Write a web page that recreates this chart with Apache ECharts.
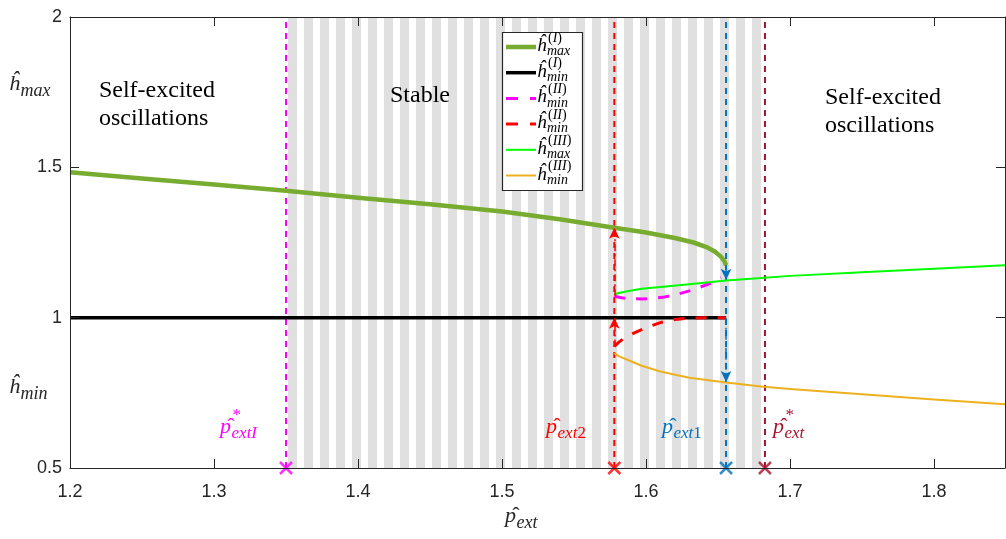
<!DOCTYPE html>
<html>
<head>
<meta charset="utf-8">
<script src="https://cdn.jsdelivr.net/npm/echarts@6/dist/echarts.min.js"></script>
<style>
  html, body { margin: 0; padding: 0; background: #fff; }
  #chart { width: 1006px; height: 539px; }
</style>
</head>
<body>
<div id="chart"></div>
<script>
// ---- axes ----
const xMin = 1.2, xMax = 1.8493, xStep = 0.1;
const yMin = 0.5, yMax = 2, yStep = 0.5;

// ---- branch I ----
const hMaxI_x = [1.2, 1.25, 1.3, 1.35, 1.4, 1.45, 1.5, 1.54, 1.578, 1.6, 1.62, 1.633, 1.642, 1.648, 1.652, 1.6545, 1.6556];
const hMaxI_y = [1.484, 1.463, 1.443, 1.422, 1.399, 1.377, 1.353, 1.327, 1.299, 1.283, 1.265, 1.250, 1.235, 1.219, 1.203, 1.187, 1.174];
const hMinI_x = [1.2, 1.6556];
const hMinI_y = [1.0, 1.0];

// ---- branch II (unstable) ----
const hMaxII_x = [1.578, 1.583, 1.59, 1.597, 1.605, 1.613, 1.622, 1.633, 1.645, 1.652];
const hMaxII_y = [1.071, 1.066, 1.063, 1.062, 1.064, 1.069, 1.078, 1.093, 1.115, 1.133];
const hMinII_x = [1.578, 1.581, 1.585, 1.59, 1.595, 1.603, 1.611, 1.62, 1.628, 1.64, 1.6556];
const hMinII_y = [0.904, 0.918, 0.932, 0.945, 0.956, 0.972, 0.985, 0.994, 0.998, 1.0, 1.0];

// ---- branch III ----
const hMaxIII_x = [1.578, 1.581, 1.587, 1.597, 1.61, 1.63, 1.6556, 1.68, 1.70, 1.75, 1.80, 1.8493];
const hMaxIII_y = [1.077, 1.082, 1.088, 1.096, 1.102, 1.111, 1.124, 1.132, 1.139, 1.151, 1.163, 1.174];
const hMinIII_x = [1.578, 1.581, 1.587, 1.597, 1.61, 1.63, 1.6556, 1.68, 1.70, 1.75, 1.80, 1.8493];
const hMinIII_y = [0.882, 0.872, 0.860, 0.840, 0.821, 0.800, 0.784, 0.771, 0.763, 0.745, 0.728, 0.712];

// ---- critical external pressures ----
const pExtI = 1.35, pExt2 = 1.578, pExt1 = 1.6556, pExtStar = 1.6826;

// jumps between branches: [x, from, to]
const jumpsUp   = [[pExt2, 1.071, 1.299], [pExt2, 0.904, 1.0]];
const jumpsDown = [[pExt1, 1.174, 1.126], [pExt1, 1.0, 0.786]];

// striped "Stable" band
const stripeStart = 1.3514, stripePeriod = 0.01111, stripeWidth = 0.00625, stripeEnd = pExtStar;

// ---- colours ----
const cGreenI = '#77AC30', cBlack = '#000000', cMagenta = '#FF00FF', cRed = '#FF0000',
      cLime = '#00FF00', cOrange = '#EDB120', cBlue = '#0072BD', cDarkRed = '#A2142F',
      cAxis = '#262626', cStripe = '#E0E0E0';

const serif = '"Liberation Serif", "Times New Roman", serif';
const sans = '"Liberation Sans", Arial, Helvetica, sans-serif';

const zip = (xs, ys) => xs.map((x, i) => [x, ys[i]]);

const stripes = [];
for (let a = stripeStart; a < stripeEnd; a += stripePeriod) {
  stripes.push([{ xAxis: a }, { xAxis: Math.min(a + stripeWidth, stripeEnd) }]);
}

const curves = [
  { name: 'hMaxI',   x: hMaxI_x,   y: hMaxI_y,   color: cGreenI,  width: 4.5, type: 'solid', sub: 'max', sup: '(I)' },
  { name: 'hMinI',   x: hMinI_x,   y: hMinI_y,   color: cBlack,   width: 3.5, type: 'solid', sub: 'min', sup: '(I)' },
  { name: 'hMaxII',  x: hMaxII_x,  y: hMaxII_y,  color: cMagenta, width: 3,   type: [11, 11], sub: 'min', sup: '(II)' },
  { name: 'hMinII',  x: hMinII_x,  y: hMinII_y,  color: cRed,     width: 3,   type: [11, 11], sub: 'min', sup: '(II)' },
  { name: 'hMaxIII', x: hMaxIII_x, y: hMaxIII_y, color: cLime,    width: 2,   type: 'solid', sub: 'max', sup: '(III)' },
  { name: 'hMinIII', x: hMinIII_x, y: hMinIII_y, color: cOrange,  width: 2,   type: 'solid', sub: 'min', sup: '(III)' }
];

const verticals = [
  { x: pExtI, color: cMagenta },
  { x: pExt2, color: cRed },
  { x: pExt1, color: cBlue },
  { x: pExtStar, color: cDarkRed }
];

const series = [];

// background stripes
series.push({
  type: 'line', data: [], silent: true, z: 0,
  markArea: { silent: true, itemStyle: { color: cStripe }, data: stripes }
});

// vertical markers of critical pressures
verticals.forEach(v => {
  series.push({
    type: 'line', data: [[v.x, yMin], [v.x, yMax]], showSymbol: false, silent: true, z: 2,
    lineStyle: { color: v.color, width: 2, type: [6, 5] }
  });
});

curves.forEach(c => {
  series.push({
    type: 'line', name: c.name, data: zip(c.x, c.y), showSymbol: false,
    smooth: false, z: 3,
    lineStyle: { color: c.color, width: c.width, type: c.type, cap: 'butt', join: 'round' }
  });
});

// jump arrows
function jumpSeries(list, color) {
  return {
    type: 'line', data: [], z: 4, silent: true,
    markLine: {
      silent: true, symbol: ['none', 'arrow'], symbolSize: [8, 11], label: { show: false },
      lineStyle: { color: color, width: 1.5, type: [7, 3, 2, 3] },
      data: list.map(j => [{ coord: [j[0], j[1]] }, { coord: [j[0], j[2]] }])
    }
  };
}
series.push(jumpSeries(jumpsUp, cRed));
series.push(jumpSeries(jumpsDown, cBlue));

// crosses on the horizontal axis
series.push({
  type: 'scatter', z: 5, clip: false, silent: true,
  symbol: 'path://M0,0L10,10M10,0L0,10', symbolSize: 12,
  data: verticals.map(v => ({ value: [v.x, yMin], itemStyle: { color: 'none', borderColor: v.color, borderWidth: 2.5 } }))
});

const tickLabel = v => (Math.abs(v / 0.1 - Math.round(v / 0.1)) < 1e-6 ? String(+v.toFixed(1)) : '');

const axisCommon = {
  type: 'value', z: 10,
  axisLine: { show: true, onZero: false, lineStyle: { color: cAxis, width: 1 } },
  axisTick: { show: true, inside: true, length: 9, lineStyle: { color: cAxis } },
  splitLine: { show: false }
};

const option = {
  animation: false,
  grid: { left: 70, right: 1, top: 17, bottom: 71 },
  xAxis: [
    Object.assign({}, axisCommon, {
      min: xMin, max: xMax, interval: xStep,
      axisLabel: { color: cAxis, fontSize: 18, fontFamily: sans, margin: 15, showMaxLabel: false, formatter: tickLabel }
    }),
    Object.assign({}, axisCommon, {
      position: 'top', min: xMin, max: xMax, interval: xStep, axisLabel: { show: false }
    })
  ],
  yAxis: [
    Object.assign({}, axisCommon, {
      min: yMin, max: yMax, interval: yStep,
      axisLabel: { color: cAxis, fontSize: 18, fontFamily: sans, margin: 8, formatter: v => String(v) }
    }),
    Object.assign({}, axisCommon, {
      position: 'right', min: yMin, max: yMax, interval: yStep, axisLabel: { show: false }
    })
  ],
  series: series
};

const chart = echarts.init(document.getElementById('chart'), null, { renderer: 'canvas' });
chart.setOption(option);

// ---- math-style text (hat, sub- and superscripts) ----
const TOP = 100;
const mctx = document.createElement('canvas').getContext('2d');
function runs(str) {
  // letters italic, digits and punctuation upright
  const out = [];
  for (const ch of str) {
    const it = /[A-Za-z\u0125]/.test(ch);
    if (out.length && out[out.length - 1].it === it) out[out.length - 1].t += ch;
    else out.push({ t: ch, it: it });
  }
  return out;
}
function textRow(x, y, str, size, color) {
  const els = [];
  let cx = x;
  runs(str).forEach(r => {
    const style = r.it ? 'italic' : 'normal';
    mctx.font = `${style} ${size}px ${serif}`;
    els.push({
      type: 'text', x: cx, y: y, silent: true, z: TOP,
      style: { text: r.t, fontSize: size, fontFamily: serif, fontStyle: style, fill: color, verticalAlign: 'middle', align: 'left' }
    });
    cx += mctx.measureText(r.t).width;
  });
  return { els, width: cx - x };
}
function mathLabel(x, y, base, sub, sup, size, color, ratio, subDy, supDy) {
  const b = textRow(x, y, base, size, color);
  let els = b.els;
  const s = Math.round(size * (ratio || 0.7));
  if (sub) els = els.concat(textRow(x + b.width + 0.5, y + size * (subDy || 0.32), sub, s, color).els);
  if (sup) els = els.concat(textRow(x + b.width + 1.5, y - size * (supDy || 0.5), sup, s, color).els);
  return els;
}

const px = (x, y) => chart.convertToPixel({ gridIndex: 0 }, [x, y]);
const graphics = [];

// region captions
function caption(x, y, txt) {
  const p = px(x, y);
  graphics.push({
    type: 'text', x: p[0], y: p[1], silent: true, z: TOP,
    style: { text: txt, fontSize: 24, fontFamily: serif, fill: '#000', lineHeight: 28, verticalAlign: 'middle', align: 'left' }
  });
}
caption(1.2201, 1.707, 'Self-excited\noscillations');
caption(1.4222, 1.737, 'Stable');
caption(1.7243, 1.685, 'Self-excited\noscillations');

// pressure labels
const pHat = 'p\u0302';
const pLabels = [
  { x: 1.3042, sub: 'extI', sup: '*', color: cMagenta },
  { x: 1.5306, sub: 'ext2', sup: '',  color: cRed },
  { x: 1.6111, sub: 'ext1', sup: '',  color: cBlue },
  { x: 1.6882, sub: 'ext',  sup: '*', color: cDarkRed }
];
pLabels.forEach(l => {
  const p = px(l.x, 0.637);
  graphics.push(...mathLabel(p[0], p[1], pHat, l.sub, l.sup, 22, l.color, 0.78));
});

// axis titles
graphics.push(...mathLabel(9, 84, '\u0125', 'max', '', 22, cAxis, 0.8));
graphics.push(...mathLabel(9, 387, '\u0125', 'min', '', 22, cAxis, 0.8));
graphics.push(...mathLabel(505, 516, pHat, 'ext', '', 22, cAxis, 0.8));

// legend box
const lgX = 502, lgY = 32, lgW = 80, lgH = 158, lgStep = 25.7;
graphics.push({
  type: 'rect', z: TOP - 1, silent: true,
  shape: { x: lgX + 0.5, y: lgY + 0.5, width: lgW, height: lgH },
  style: { fill: '#fff', stroke: cAxis, lineWidth: 1.2 }
});
curves.forEach((c, i) => {
  const ly = lgY + 15 + i * lgStep;
  graphics.push({
    type: 'line', z: TOP, silent: true,
    shape: { x1: lgX + 4, y1: ly, x2: lgX + 34, y2: ly },
    style: { stroke: c.color, lineWidth: c.width, lineDash: Array.isArray(c.type) ? [12, 12] : null }
  });
  graphics.push(...mathLabel(lgX + 35, ly - 1, '\u0125', c.sub, c.sup, 19, '#000', 0.72, 0.3, 0.42));
});

chart.setOption({ graphic: graphics });
</script>
</body>
</html>
